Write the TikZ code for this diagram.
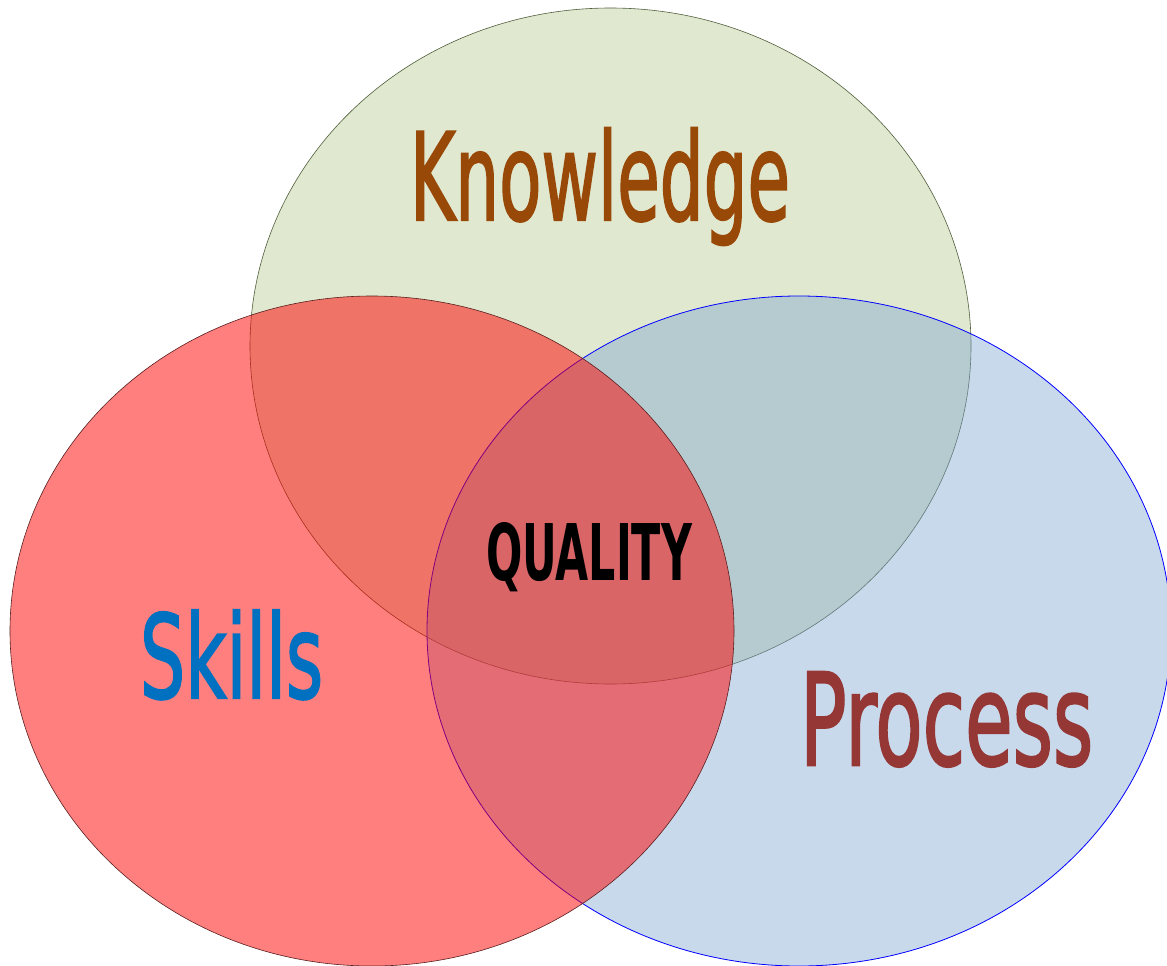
\documentclass[tikz,border=0pt]{standalone}
\usepackage{fontspec}
\usepackage{graphicx}
\setmainfont{DejaVu Sans}
\newfontfamily\labelfont[FakeBold=2]{DejaVu Sans}
\definecolor{kfill}{RGB}{224,232,207}
\definecolor{kdraw}{RGB}{80,95,60}
\definecolor{pfill}{RGB}{120,160,208}
\definecolor{sdraw}{RGB}{90,30,30}
\definecolor{ktext}{RGB}{152,72,7}
\definecolor{stext}{RGB}{0,112,192}
\definecolor{ptext}{RGB}{149,55,53}
\tikzset{
  label/.style={inner sep=0pt, outer sep=0pt, anchor=base west},
}
\begin{document}
\begin{tikzpicture}[x=1pt,y=-1pt]
\useasboundingbox (0,0) rectangle (1167,966);
\clip (0,0) rectangle (1167,966);
\fill[white] (0,0) rectangle (1167,966);
% Knowledge
\draw[kdraw, line width=0.6pt, fill=kfill] (610.5,346) ellipse [x radius=360.5pt, y radius=338pt];
% Process
\draw[blue, line width=0.8pt, fill=pfill, fill opacity=0.4] (799,631) ellipse [x radius=372pt, y radius=335pt];
% Skills
\draw[sdraw, line width=0.6pt, fill=red, fill opacity=0.5] (372,631) ellipse [x radius=362pt, y radius=335pt];
% labels
\node[label, text=ktext] (know) at (410,220) {\resizebox{380pt}{92pt}{\labelfont Knowledge}};
\node[label, text=stext] (skills) at (140,698) {\resizebox{183pt}{88pt}{\labelfont Skills}};
\node[label, text=ptext] (proc) at (800,765) {\resizebox{293pt}{93pt}{\labelfont Process}};
\node[label, text=black] (qual) at (486,580) {\resizebox{206pt}{58pt}{\bfseries QUALITY}};
\end{tikzpicture}
\end{document}
